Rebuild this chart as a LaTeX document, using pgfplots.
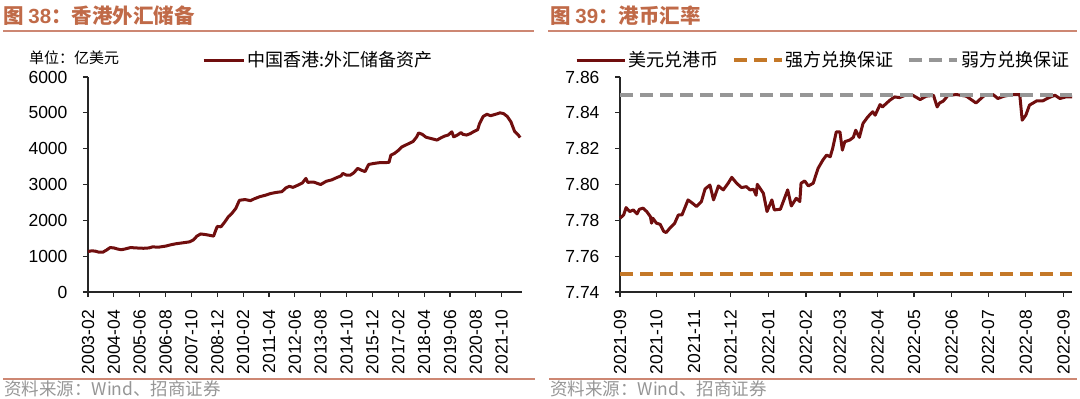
\documentclass[border=0pt]{standalone}
\usepackage{pgfplots}
\pgfplotsset{compat=1.18}
\usepackage{fontspec}
\setmainfont{Liberation Sans}
\newfontfamily\cjk{Noto Sans CJK SC}
\definecolor{titlec}{RGB}{192,106,72}
\definecolor{rulec}{RGB}{205,135,115}
\definecolor{linec}{RGB}{112,14,14}
\definecolor{orangec}{RGB}{196,120,40}
\definecolor{grayc}{RGB}{150,150,150}
\definecolor{footc}{RGB}{150,150,150}
\pgfplotsset{
  mystyle/.style={
    scale only axis, height=215pt,
    axis x line*=bottom, axis y line*=left,
    axis line style={line width=1.2pt, black!85},
    tick align=outside, major tick length=5pt,
    tick style={line width=1.2pt, black!85},
    ticklabel style={font=\fontsize{17.5}{17.5}\selectfont},
    /pgf/number format/assume math mode=true,
    xticklabel style={rotate=90, anchor=east, inner xsep=13pt},
    yticklabel style={xshift=-12pt},
    clip=false,
    legend style={draw=none, fill=none, inner sep=0pt,
      font=\cjk\fontsize{18}{18}\selectfont, legend columns=3,
      /tikz/every even column/.append style={column sep=12pt}},
  }
}
\begin{document}
\begin{tikzpicture}
\path[use as bounding box] (0pt,0pt) rectangle (1080pt,-399pt);
% titles and rules
\node[anchor=west, text=titlec, font=\fontsize{20.5}{20.5}\selectfont\bfseries, inner sep=0pt] at (3pt,-16pt) {{\cjk 图 }38{\cjk ：香港外汇储备}};
\node[anchor=west, text=titlec, font=\fontsize{20.5}{20.5}\selectfont\bfseries, inner sep=0pt] at (550pt,-16pt) {{\cjk 图 }39{\cjk ：港币汇率}};
\draw[rulec, line width=1.5pt] (3pt,-31pt) -- (534pt,-31pt);
\draw[rulec, line width=1.5pt] (548pt,-31pt) -- (1077pt,-31pt);
\draw[rulec, line width=1.5pt] (3pt,-379pt) -- (535pt,-379pt);
\draw[rulec, line width=1.5pt] (549pt,-379pt) -- (1077pt,-379pt);
\node[anchor=west, text=footc, font=\cjk\fontsize{17.5}{17.5}\selectfont, inner sep=0pt] at (4pt,-389pt) {资料来源：Wind、招商证券};
\node[anchor=west, text=footc, font=\cjk\fontsize{17.5}{17.5}\selectfont, inner sep=0pt] at (550pt,-389pt) {资料来源：Wind、招商证券};
\node[anchor=west, font=\cjk\fontsize{15}{15}\selectfont, inner sep=0pt] at (29pt,-58pt) {单位：亿美元};

\begin{axis}[mystyle, at={(88pt,-292pt)}, anchor=south west, width=434pt,
  xmin=0, xmax=235, ymin=0, ymax=6000,
  ytick={0,1000,...,6000},
  /pgf/number format/1000 sep={},
  xtick={0,14,...,224},
  xticklabels={2003-02,2004-04,2005-06,2006-08,2007-10,2008-12,2010-02,2011-04,2012-06,2013-08,2014-10,2015-12,2017-02,2018-04,2019-06,2020-08,2021-10},
  legend style={at={(0.2627,1.079)}, anchor=west},
  legend image code/.code={\draw[#1] (0pt,0pt) -- (40pt,0pt);},
]
\addplot[linec, line width=3pt, line join=round] coordinates {
(0,1130) (2,1150) (4,1140) (6,1110) (8,1110) (10,1170) (12,1240) (14,1230) (16,1200) (18,1180)
(20,1200) (23,1240) (26,1230) (30,1220) (33,1230) (35,1260) (38,1250) (42,1280) (45,1320) (48,1350)
(51,1370) (55,1400) (57,1450) (59,1560) (61,1620) (64,1600) (66,1580) (68,1560) (69,1700) (70,1830)
(72,1820) (74,1950) (76,2100) (78,2200) (80,2330) (82,2560) (85,2580) (88,2550) (90,2600) (93,2660)
(96,2700) (99,2750) (102,2780) (105,2800) (107,2900) (109,2950) (111,2920) (114,2990) (116,3040) (118,3170)
(119,3060) (122,3070) (126,3000) (129,3090) (132,3130) (135,3200) (137,3240) (138,3310) (140,3260) (142,3260)
(144,3330) (146,3450) (148,3400) (150,3360) (152,3560) (155,3590) (158,3610) (161,3610) (163,3620) (164,3820)
(166,3870) (168,3950) (170,4050) (172,4100) (174,4150) (176,4200) (178,4330) (179,4440) (181,4400) (183,4320)
(186,4280) (189,4240) (191,4300) (193,4350) (195,4380) (197,4470) (198,4330) (200,4380) (202,4450) (203,4400)
(205,4380) (207,4420) (209,4480) (211,4530) (212,4700) (214,4900) (216,4960) (218,4920) (220,4950) (222,4980)
(223,5000) (225,4980) (227,4900) (229,4750) (231,4480) (233,4380) (234,4310)
};
\addlegendentry{中国香港:外汇储备资产}
\end{axis}

\begin{axis}[mystyle, at={(620pt,-292pt)}, anchor=south west, width=452pt,
  xmin=0, xmax=372, ymin=7.74, ymax=7.86,
  ytick={7.74,7.76,...,7.87},
  yticklabel style={/pgf/number format/.cd, fixed, fixed zerofill, precision=2},
  xtick={0,30,61,91,122,153,181,212,242,273,303,334,365},
  xticklabels={2021-09,2021-10,2021-11,2021-12,2022-01,2022-02,2022-03,2022-04,2022-05,2022-06,2022-07,2022-08,2022-09},
  legend style={at={(-0.0996,1.079)}, anchor=west},
  legend image code/.code={\draw[#1] (0pt,0pt) -- (48pt,0pt);},
]
\addplot[linec, line width=3pt, line join=round] coordinates {
(0,7.7812) (3,7.7830) (5,7.7871) (8,7.7849) (11,7.7858) (14,7.7836) (16,7.7862) (19,7.7868) (22,7.7849) (25,7.7821)
(26,7.7784) (27,7.7812) (30,7.7784) (33,7.7778) (36,7.7738) (38,7.7732) (41,7.7756) (45,7.7784) (48,7.7830) (51,7.7830)
(56,7.7914) (59,7.7899) (63,7.7877) (67,7.7905) (70,7.7975) (74,7.7997) (77,7.7914) (81,7.7992) (85,7.7970) (89,7.8007)
(92,7.8040) (96,7.8007) (100,7.7983) (104,7.7988) (107,7.7970) (110,7.7973) (112,7.7940) (113,7.8001) (118,7.7951) (121,7.7849)
(125,7.7914) (127,7.7858) (132,7.7862) (138,7.7970) (141,7.7880) (145,7.7923) (148,7.7905) (149,7.8007) (152,7.8020) (155,7.7992)
(159,7.8007) (163,7.8090) (167,7.8137) (170,7.8164) (173,7.8155) (175,7.8201) (178,7.8294) (181,7.8294) (183,7.8192) (185,7.8239)
(189,7.8248) (192,7.8263) (194,7.8303) (197,7.8263) (200,7.8341) (204,7.8378) (208,7.8406) (210,7.8387) (214,7.8446) (216,7.8433)
(222,7.8470) (226,7.8489) (230,7.8485) (236,7.8502) (241,7.8498) (247,7.8474) (252,7.8493) (258,7.8498) (261,7.8433) (263,7.8455)
(266,7.8465) (270,7.8498) (277,7.8502) (285,7.8493) (293,7.8455) (300,7.8498) (307,7.8502) (311,7.8480) (316,7.8493) (323,7.8502)
(329,7.8502) (331,7.8359) (334,7.8387) (337,7.8443) (343,7.8467) (348,7.8467) (353,7.8485) (358,7.8498) (362,7.8480) (367,7.8489)
(372,7.8489)
};
\addlegendentry{美元兑港币}
\addplot[orangec, line width=3.5pt, dash pattern=on 13pt off 7pt] coordinates {(0,7.75) (372,7.75)};
\addlegendentry{强方兑换保证}
\addplot[grayc, line width=3.5pt, dash pattern=on 13pt off 7pt] coordinates {(0,7.85) (372,7.85)};
\addlegendentry{弱方兑换保证}
\end{axis}
\end{tikzpicture}
\end{document}
